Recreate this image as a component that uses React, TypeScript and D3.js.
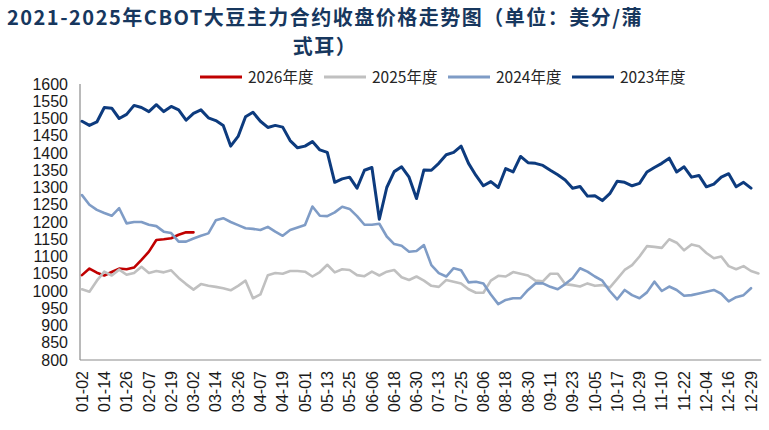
import * as d3 from "d3";

// x-axis category labels (every 12th calendar day)
const xLabels = [
  "01-02", "01-14", "01-26", "02-07", "02-19", "03-02", "03-14", "03-26",
  "04-07", "04-19", "05-01", "05-13", "05-25", "06-06", "06-18", "06-30",
  "07-13", "07-25", "08-06", "08-18", "08-30", "09-11", "09-23", "10-05",
  "10-17", "10-29", "11-10", "11-22", "12-04", "12-16", "12-29",
];
const labelStepDays = 12;
const yTicks = d3.range(800, 1601, 50);

// closing prices read every 4 days, starting 01-02
const sampleStepDays = 4;

const values2026 = [
  1046, 1065, 1053, 1045, 1055, 1065, 1063, 1068, 1090, 1114, 1148, 1150,
  1153, 1163, 1170, 1170,
];

const values2025 = [
  1005, 998, 1030, 1056, 1045, 1062, 1047, 1052, 1070, 1052, 1058, 1054,
  1060, 1038, 1020, 1004, 1020, 1015, 1012, 1008, 1002, 1015, 1030, 979,
  990, 1046, 1052, 1050, 1058, 1058, 1056, 1042, 1055, 1076, 1054, 1063,
  1061, 1046, 1043, 1056, 1045, 1056, 1061, 1040, 1032, 1042, 1030, 1015,
  1012, 1032, 1027, 1022, 1005, 995, 995, 1030, 1044, 1042, 1055, 1050,
  1045, 1030, 1028, 1050, 1050, 1020, 1017, 1013, 1022, 1015, 1017, 1010,
  1035, 1061, 1075, 1100, 1130, 1128, 1125, 1150, 1140, 1118, 1135, 1130,
  1110, 1095, 1100, 1072, 1063, 1072, 1058, 1051,
];

const values2024 = [
  1278, 1250, 1235, 1226, 1218, 1240, 1196, 1200, 1200, 1192, 1188, 1172,
  1168, 1143, 1143, 1152, 1160, 1167, 1205, 1211, 1200, 1191, 1182, 1180,
  1177, 1186, 1172, 1160, 1177, 1184, 1191, 1245, 1218, 1217, 1228, 1244,
  1238, 1217, 1192, 1192, 1195, 1158, 1136, 1131, 1114, 1116, 1133, 1075,
  1052, 1042, 1066, 1060, 1025, 1027, 1022, 990, 962, 974, 979, 979,
  1003, 1022, 1022, 1012, 1005, 1020, 1037, 1066, 1056, 1042, 1030, 1000,
  976, 1003, 988, 979, 996, 1027, 1000, 1013, 1003, 986, 988, 993,
  998, 1003, 992, 970, 982, 988, 1008,
];

const values2023 = [
  1492, 1480, 1490, 1532, 1530, 1500, 1512, 1538, 1532, 1520, 1540, 1520,
  1535, 1525, 1495, 1515, 1525, 1502, 1494, 1480, 1420, 1448, 1505, 1518,
  1492, 1474, 1480, 1475, 1436, 1415, 1420, 1433, 1409, 1402, 1315, 1325,
  1330, 1298, 1350, 1358, 1208, 1300, 1346, 1360, 1330, 1268, 1351, 1350,
  1370, 1395, 1402, 1420, 1370, 1335, 1305, 1317, 1300, 1355, 1345, 1390,
  1372, 1370, 1364, 1350, 1337, 1322, 1298, 1303, 1275, 1276, 1262, 1282,
  1318, 1315, 1305, 1312, 1345, 1358, 1370, 1385, 1345, 1360, 1330, 1335,
  1302, 1310, 1330, 1340, 1302, 1315, 1298,
];

const series = [
  { name: "2026年度", color: "#C00000", width: 2.6, values: values2026 },
  { name: "2025年度", color: "#C0C0C0", width: 2.6, values: values2025 },
  { name: "2024年度", color: "#7F9CC6", width: 2.6, values: values2024 },
  { name: "2023年度", color: "#0D3B7E", width: 3, values: values2023 },
];

const titleLines = [
  "2021-2025年CBOT大豆主力合约收盘价格走势图（单位：美分/蒲",
  "式耳）",
];

const W = 769;
const H = 430;
const font = "'Liberation Sans', Arial, sans-serif";
const cjkFont = "'Noto Sans CJK SC', 'Noto Sans', sans-serif";

export default function App() {
  const lastDay = (xLabels.length - 1) * labelStepDays;
  const x = d3.scaleLinear().domain([0, lastDay]).range([82, 751]);
  const y = d3.scaleLinear().domain([800, 1600]).range([360, 84]);

  const line = d3
    .line<number>()
    .x((_, i) => x(i * sampleStepDays))
    .y((d) => y(d));

  return (
    <svg
      width={W}
      height={H}
      style={{ position: "absolute", left: 0, top: 0, background: "#fff" }}
    >
      {/* title, wrapped on two lines */}
      {titleLines.map((t, i) => (
        <text
          key={i}
          x={325}
          y={25 + i * 29}
          fontFamily={cjkFont}
          fontWeight="bold"
          fontSize={20}
          letterSpacing={1.5}
          fill="#17375E"
          textAnchor="middle"
        >
          {t}
        </text>
      ))}

      {/* legend */}
      {series.map((s, i) => {
        const lx = 200 + i * 124;
        return (
          <g key={s.name}>
            <line
              x1={lx}
              x2={lx + 42}
              y1={77}
              y2={77}
              stroke={s.color}
              strokeWidth={3}
            />
            <text
              x={lx + 48}
              y={77}
              dy="0.36em"
              fontFamily={cjkFont}
              fontSize={15.5}
              fill="#262626"
            >
              {s.name}
            </text>
          </g>
        );
      })}

      {/* axes */}
      <line x1={80} x2={80} y1={y(1600)} y2={y(800)} stroke="#8c8c8c" strokeWidth={1.2} />
      <line x1={80} x2={x(lastDay + 5.5)} y1={y(800)} y2={y(800)} stroke="#8c8c8c" strokeWidth={1.2} />

      {yTicks.map((t) => (
        <text
          key={t}
          x={68}
          y={y(t)}
          dy="0.35em"
          textAnchor="end"
          fontFamily={font}
          fontSize={16}
          fill="#1a1a1a"
        >
          {t}
        </text>
      ))}

      {xLabels.map((l, i) => (
        <text
          key={l}
          transform={`translate(${x(i * labelStepDays)},371) rotate(-90)`}
          dy="0.35em"
          textAnchor="end"
          fontFamily={font}
          fontSize={16}
          fill="#1a1a1a"
        >
          {l}
        </text>
      ))}

      {/* series lines */}
      {series.map((s) => (
        <path
          key={s.name}
          d={line(s.values) || undefined}
          fill="none"
          stroke={s.color}
          strokeWidth={s.width}
          strokeLinejoin="round"
          strokeLinecap="round"
        />
      ))}
    </svg>
  );
}
